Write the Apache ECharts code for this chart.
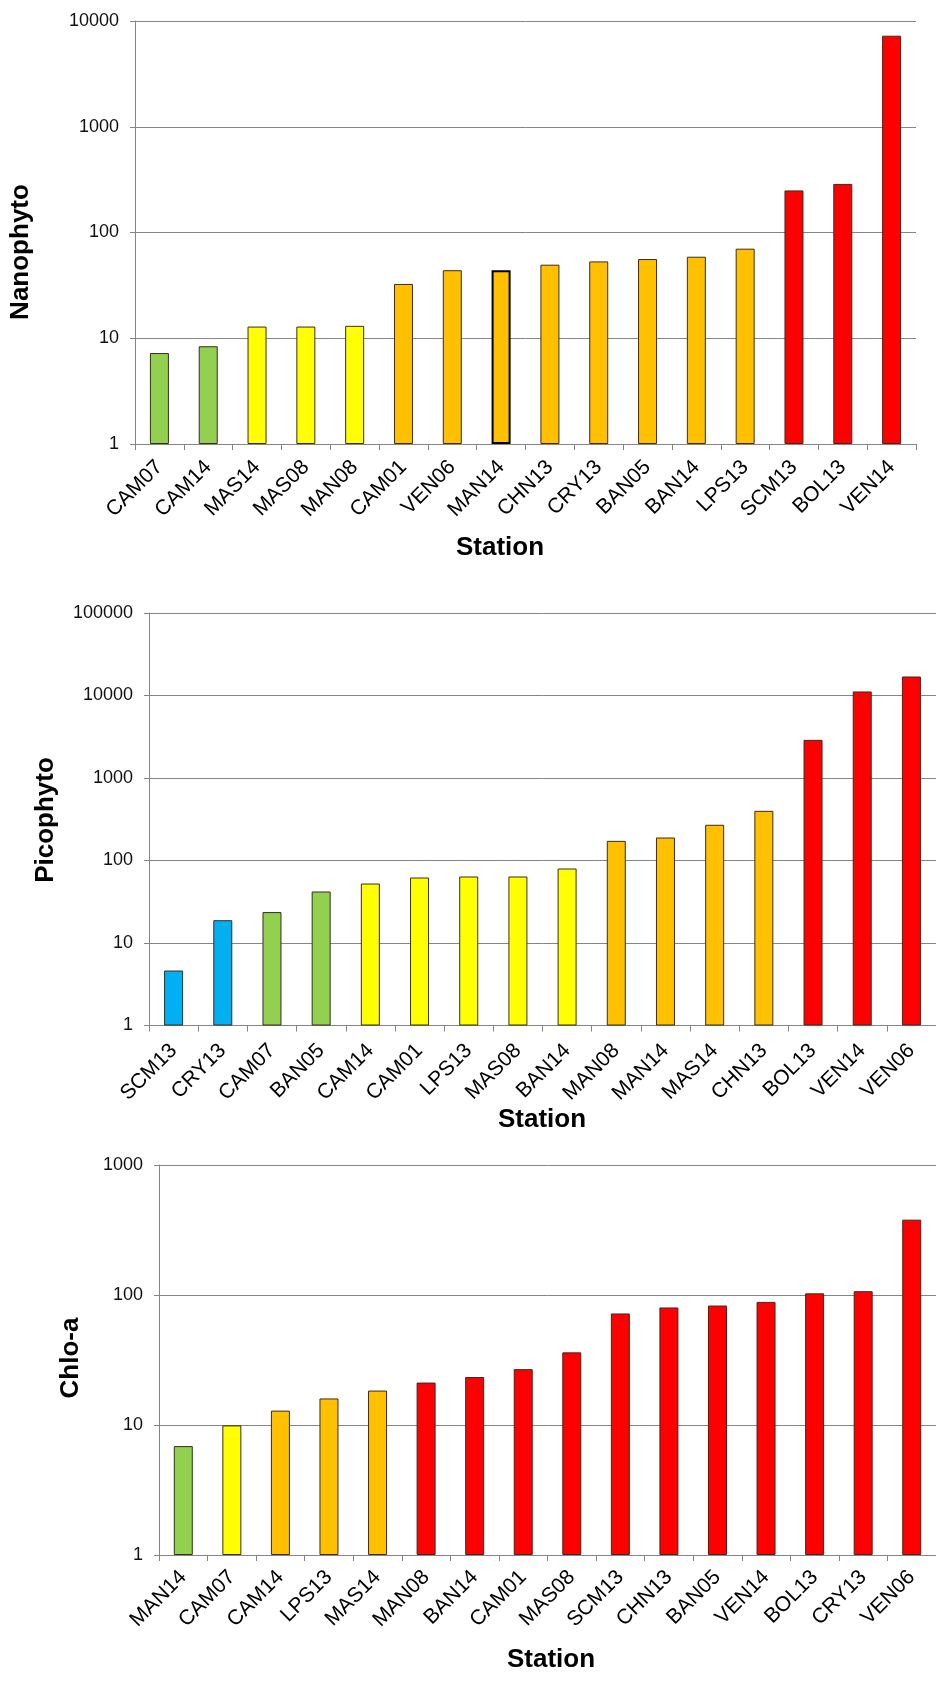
<!DOCTYPE html>
<html>
<head>
<meta charset="utf-8">
<script src="https://cdn.jsdelivr.net/npm/echarts@6/dist/echarts.min.js"></script>
<style>
  html, body { margin: 0; padding: 0; background: #ffffff; }
  #chart { width: 936px; height: 1686px; }
</style>
</head>
<body>
<div id="chart"></div>
<script>
// ---- Nanophyto panel ----
const nanoStations = ['CAM07','CAM14','MAS14','MAS08','MAN08','CAM01','VEN06','MAN14','CHN13','CRY13','BAN05','BAN14','LPS13','SCM13','BOL13','VEN14'];
const nanoValues   = [7.25, 8.4, 12.9, 12.9, 13.1, 32.6, 44, 44, 49.6, 53.3, 56.1, 59, 70.3, 250, 288, 7260];
const nanoClasses  = ['green','green','yellow','yellow','yellow','orange','orange','orange','orange','orange','orange','orange','orange','red','red','red'];
const nanoOutlined = ['MAN14'];
const nanoTicks    = [1, 10, 100, 1000, 10000];

// ---- Picophyto panel ----
const picoStations = ['SCM13','CRY13','CAM07','BAN05','CAM14','CAM01','LPS13','MAS08','BAN14','MAN08','MAN14','MAS14','CHN13','BOL13','VEN14','VEN06'];
const picoValues   = [4.64, 18.9, 23.7, 42.1, 52.6, 62.2, 64, 64, 80, 173, 190, 271, 400, 2900, 11200, 17000];
const picoClasses  = ['blue','blue','green','green','yellow','yellow','yellow','yellow','yellow','orange','orange','orange','orange','red','red','red'];
const picoTicks    = [1, 10, 100, 1000, 10000, 100000];

// ---- Chlorophyll-a panel ----
const chloStations = ['MAN14','CAM07','CAM14','LPS13','MAS14','MAN08','BAN14','CAM01','MAS08','SCM13','CHN13','BAN05','VEN14','BOL13','CRY13','VEN06'];
const chloValues   = [6.88, 9.93, 12.9, 16, 18.4, 21.2, 23.4, 26.9, 36.2, 72.1, 80.2, 83, 88.5, 103, 107, 380];
const chloClasses  = ['green','yellow','orange','orange','orange','red','red','red','red','red','red','red','red','red','red','red'];
const chloTicks    = [1, 10, 100, 1000];

const classColors = {
  blue: '#00B0F0',
  green: '#92D050',
  yellow: '#FFFF00',
  orange: '#FFC000',
  red: '#FF0000'
};

const FONT = '"Liberation Sans", Arial, Helvetica, sans-serif';
const GRID_GRAY = '#858585';

const panels = [
  { stations: nanoStations, values: nanoValues, classes: nanoClasses, outlined: nanoOutlined, ticks: nanoTicks,
    grid: { left: 135, top: 21, width: 781, height: 423 }, labelMargin: 20,
    yTitle: { text: 'Nanophyto', x: 21, y: 252 }, xTitle: { text: 'Station', x: 500, y: 548 } },
  { stations: picoStations, values: picoValues, classes: picoClasses, outlined: [], ticks: picoTicks,
    grid: { left: 149, top: 613, width: 787, height: 412.5 }, labelMargin: 22,
    yTitle: { text: 'Picophyto', x: 46, y: 820 }, xTitle: { text: 'Station', x: 542, y: 1120 } },
  { stations: chloStations, values: chloValues, classes: chloClasses, outlined: [], ticks: chloTicks,
    grid: { left: 159, top: 1165, width: 787, height: 390 }, labelMargin: 19,
    yTitle: { text: 'Chlo-a', x: 71, y: 1358 }, xTitle: { text: 'Station', x: 551, y: 1660 } }
];

const option = {
  backgroundColor: '#ffffff',
  animation: false,
  textStyle: { fontFamily: FONT },
  grid: [],
  xAxis: [],
  yAxis: [],
  series: [],
  graphic: []
};

panels.forEach((p, i) => {
  option.grid.push(Object.assign({ containLabel: false }, p.grid));

  option.xAxis.push({
    type: 'category',
    gridIndex: i,
    data: p.stations,
    boundaryGap: true,
    axisLine: { show: true, lineStyle: { color: GRID_GRAY, width: 1 } },
    axisTick: { show: true, length: 6, lineStyle: { color: GRID_GRAY } },
    axisLabel: {
      interval: 0,
      rotate: 45,
      margin: p.labelMargin,
      fontSize: 21,
      color: '#000000',
      fontFamily: FONT
    },
    splitLine: { show: false }
  });

  option.yAxis.push({
    type: 'log',
    logBase: 10,
    gridIndex: i,
    min: p.ticks[0],
    max: p.ticks[p.ticks.length - 1],
    axisLine: { show: true, lineStyle: { color: GRID_GRAY, width: 1 } },
    axisTick: { show: true, length: 5, lineStyle: { color: GRID_GRAY } },
    axisLabel: {
      margin: 16,
      fontSize: 18,
      color: '#111111',
      fontFamily: FONT,
      formatter: v => String(Math.round(v))
    },
    splitLine: { show: true, lineStyle: { color: GRID_GRAY, width: 1 } },
    minorTick: { show: false },
    minorSplitLine: { show: false }
  });

  option.series.push({
    type: 'bar',
    xAxisIndex: i,
    yAxisIndex: i,
    barWidth: 19,
    data: p.values.map((v, k) => {
      const heavy = p.outlined.indexOf(p.stations[k]) >= 0;
      return {
        value: v,
        itemStyle: {
          color: classColors[p.classes[k]],
          borderColor: heavy ? '#000000' : '#3a2c22',
          borderWidth: heavy ? 2 : 1
        }
      };
    })
  });

  option.graphic.push({
    type: 'text',
    x: p.yTitle.x,
    y: p.yTitle.y,
    rotation: Math.PI / 2,
    style: {
      text: p.yTitle.text,
      x: 0, y: 0,
      align: 'center',
      verticalAlign: 'middle',
      font: 'bold 26px ' + FONT,
      fill: '#000000'
    }
  });
  option.graphic.push({
    type: 'text',
    x: p.xTitle.x,
    y: p.xTitle.y,
    style: {
      text: p.xTitle.text,
      x: 0, y: 0,
      align: 'center',
      verticalAlign: 'middle',
      font: 'bold 26px ' + FONT,
      fill: '#000000'
    }
  });
});

const chart = echarts.init(document.getElementById('chart'), null, { renderer: 'canvas' });
chart.setOption(option);
</script>
</body>
</html>
